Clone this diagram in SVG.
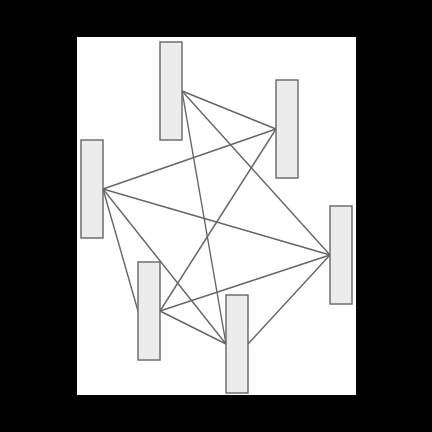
<svg xmlns="http://www.w3.org/2000/svg" width="432" height="432" viewBox="0 0 432 432">
<style>
.node{fill:#ececec;stroke:#666;stroke-width:1.4}
.edge{stroke:#666;stroke-width:1.4;fill:none}
</style>
<rect x="0" y="0" width="432" height="432" fill="#000"/>
<rect x="77" y="37" width="279" height="358" fill="#fff"/>
<g id="edges">
<line class="edge" x1="182" y1="91" x2="276" y2="129"/>
<line class="edge" x1="182" y1="91" x2="330" y2="255"/>
<line class="edge" x1="182" y1="91" x2="226" y2="344"/>
<line class="edge" x1="103" y1="189" x2="276" y2="129"/>
<line class="edge" x1="103" y1="189" x2="330" y2="255"/>
<line class="edge" x1="103" y1="189" x2="138" y2="311"/>
<line class="edge" x1="103" y1="189" x2="226" y2="344"/>
<line class="edge" x1="160" y1="311" x2="276" y2="129"/>
<line class="edge" x1="160" y1="311" x2="330" y2="255"/>
<line class="edge" x1="160" y1="311" x2="226" y2="344"/>
<line class="edge" x1="248" y1="344" x2="330" y2="255"/>
</g>
<g id="nodeA"><rect class="node" x="160" y="42" width="22" height="98"/></g>
<g id="nodeB"><rect class="node" x="276" y="80" width="22" height="98"/></g>
<g id="nodeC"><rect class="node" x="81" y="140" width="22" height="98"/></g>
<g id="nodeD"><rect class="node" x="138" y="262" width="22" height="98"/></g>
<g id="nodeE"><rect class="node" x="226" y="295" width="22" height="98"/></g>
<g id="nodeF"><rect class="node" x="330" y="206" width="22" height="98"/></g>
</svg>
